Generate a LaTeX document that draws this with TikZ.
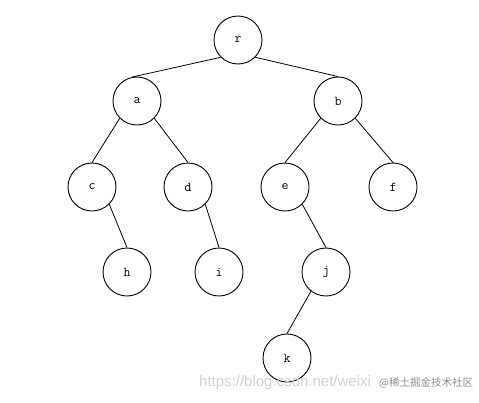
\documentclass[tikz,border=0pt]{standalone}
\usepackage{fontspec}
\setmainfont{Liberation Serif}
\newfontfamily\wmfont{Liberation Sans}
\newfontfamily\cjkfont{Noto Sans CJK SC}
\begin{document}
\begin{tikzpicture}[x=1pt,y=-1pt,
  tn/.style={circle,draw,line width=0.9pt,minimum size=48pt,inner sep=0pt,font=\ttfamily\fontsize{13.5}{13.5}\selectfont},
  ed/.style={line width=0.8pt}]
\useasboundingbox (0,0) rectangle (479,402);
\node[tn] (r) at (238,40) {r};
\node[tn] (a) at (137,101) {a};
\node[tn] (b) at (338,101) {b};
\node[tn] (c) at (92,187) {c};
\node[tn] (d) at (188,187) {d};
\node[tn] (e) at (285,187) {e};
\node[tn] (f) at (393,187) {f};
\node[tn] (h) at (127,272) {h};
\node[tn] (i) at (219,272) {i};
\node[tn] (j) at (326,272) {j};
\node[tn] (k) at (287,358) {k};
\draw[ed] (r.225) -- (a.102);
\draw[ed] (r.315) -- (b.north);
\draw[ed] (a.225) -- (c.north);
\draw[ed] (a.315) -- (d.north);
\draw[ed] (b.225) -- (e.north);
\draw[ed] (b.315) -- (f.north);
\draw[ed] (c.315) -- (h.north);
\draw[ed] (d.315) -- (i.north);
\draw[ed] (e.315) -- (j.north);
\draw[ed] (j.232) -- (k.north);
\node[anchor=west,inner sep=0pt,text=black!18,font=\wmfont\fontsize{15}{16}\selectfont] (wm) at (199,383) {https://blog.csdn.net/weixi};
\node[anchor=west,inner sep=0pt,text=black!45,font=\cjkfont\fontsize{10.5}{11}\selectfont] (wm2) at (379,383) {@稀土掘金技术社区};
\end{tikzpicture}
\end{document}
